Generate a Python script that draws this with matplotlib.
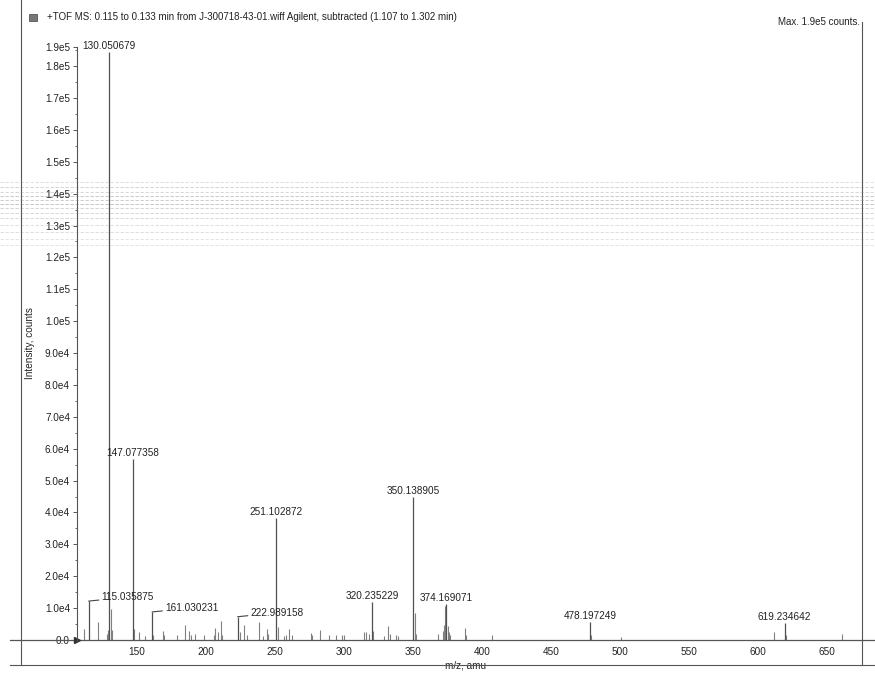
import numpy as np
import matplotlib
matplotlib.use("Agg")
import matplotlib.pyplot as plt
from matplotlib.lines import Line2D
from matplotlib.patches import Rectangle

plt.rcParams['font.family'] = ['Liberation Sans', 'DejaVu Sans']

# labelled peaks (m/z, counts)
label_mz = [115.035875, 130.050679, 147.077358, 161.030231, 222.989158,
            251.102872, 320.235229, 350.138905, 374.169071, 478.197249,
            619.234642]
label_int = [12200, 184500, 56700, 8800, 7300,
             38200, 12000, 44800, 11300, 5800,
             5400]
# labels drawn with a leader line to the right of the peak
leader_mz = [115.035875, 161.030231, 222.989158]

# smaller, unlabelled peaks
small_mz = [111.6, 121.5, 128.0, 129.0, 131.05, 132.0, 148.08, 151.2, 156.0,
            162.0, 168.6, 169.5, 178.7, 184.5, 187.9, 189.5, 192.2, 198.7,
            205.5, 206.7, 209.0, 210.8, 211.8, 224.9, 227.6, 230.0, 238.5,
            241.0, 244.1, 245.0, 252.1, 256.5, 258.0, 260.5, 262.0, 275.9,
            277.0, 282.4, 289.4, 294.3, 298.5, 300.3, 314.5, 316.0, 318.0,
            321.2, 329.0, 331.9, 333.0, 337.4, 339.0, 351.14, 352.1, 368.0,
            371.5, 372.4, 373.2, 375.2, 376.2, 377.0, 387.6, 388.5, 407.4,
            479.2, 500.4, 611.2, 620.2, 660.6]
small_int = [3400, 5600, 2000, 3000, 9700, 3000, 3400, 2400, 1200,
             1500, 2900, 1500, 1500, 4800, 2900, 1500, 2000, 1500,
             1500, 3900, 2400, 6000, 1500, 2400, 4600, 1500, 5800,
             1200, 3400, 2000, 4100, 1200, 1500, 3400, 1500, 2100,
             1500, 3100, 1700, 1500, 1500, 1500, 2400, 2400, 2000,
             2900, 1200, 4400, 2000, 1500, 1200, 8500, 2000, 2000,
             2900, 4800, 10700, 4400, 2400, 1500, 3900, 1500, 1500,
             1500, 1000, 2400, 1500, 2000]

# the top tick marks the spectrum maximum
y_top = 186000
yticks = list(np.arange(0, 180001, 10000)) + [y_top]
ytick_labels = ['0.0', '1.0e4', '2.0e4', '3.0e4', '4.0e4', '5.0e4', '6.0e4',
                '7.0e4', '8.0e4', '9.0e4', '1.0e5', '1.1e5', '1.2e5', '1.3e5',
                '1.4e5', '1.5e5', '1.6e5', '1.7e5', '1.8e5', '1.9e5']
xticks = [150, 200, 250, 300, 350, 400, 450, 500, 550, 600, 650]

W, H = 875, 677
fig = plt.figure(figsize=(W / 100, H / 100), dpi=100)
ax = fig.add_axes([77 / W, 1 - 640 / H, 785 / W, 593 / H])

ax.vlines(small_mz, 0, small_int, color='#808080', lw=0.8)
ax.vlines(label_mz, 0, label_int, color='#505050', lw=0.9)

for mz, h in zip(label_mz, label_int):
    txt = f"{mz:.6f}"
    if mz in leader_mz:
        ax.annotate(txt, (mz, h), xytext=(13, 4), textcoords='offset pixels',
                    ha='left', va='center', fontsize=7.2, color='#222222',
                    arrowprops=dict(arrowstyle='-', color='#444444', lw=0.8,
                                    shrinkA=0, shrinkB=0))
    else:
        ax.annotate(txt, (mz, h), xytext=(0, 1), textcoords='offset pixels',
                    ha='center', va='bottom', fontsize=7.2, color='#222222')

ax.set_xlim(106.6, 675.3)
ax.set_ylim(0, y_top)

# baseline runs past both ends of the axis
ax.axhline(0, xmin=-0.085, xmax=1.02, color='#555555', lw=0.9, clip_on=False)
ax.plot([106.6], [0], marker='>', ms=4, color='#333333', clip_on=False)

for s in ['top', 'right', 'bottom']:
    ax.spines[s].set_visible(False)
ax.spines['left'].set_color('#555555')
ax.spines['left'].set_linewidth(0.8)

ax.set_yticks(yticks)
ax.set_yticklabels(ytick_labels)
ax.set_yticks(np.arange(5000, y_top, 10000), minor=True)
ax.tick_params(axis='y', which='major', length=3, width=0.7, color='#555555',
               labelsize=7.2, pad=2, labelcolor='#222222')
ax.tick_params(axis='y', which='minor', length=1.5, width=0.6, color='#555555')
ax.set_xticks(xticks)
ax.tick_params(axis='x', length=0, labelsize=7.2, pad=5, labelcolor='#222222')

ax.set_ylabel('Intensity, counts', fontsize=7.2, color='#222222')
ax.yaxis.set_label_coords(-0.053, 0.5)
ax.set_xlabel('m/z, amu', fontsize=7.2, color='#222222', labelpad=1)
ax.xaxis.set_label_coords(0.495, -0.035)

# outer frame
frame_kw = dict(color='#555555', lw=0.8, transform=fig.transFigure)
fig.add_artist(Line2D([21 / W, 21 / W], [1, 1 - 665 / H], **frame_kw))
fig.add_artist(Line2D([10 / W, 1], [1 - 665 / H, 1 - 665 / H], **frame_kw))
fig.add_artist(Line2D([862 / W, 862 / W], [1 - 22 / H, 1 - 665 / H], **frame_kw))

# faint scan streaks across the upper part
for yp, a in [(182, 0.3), (187, 0.4), (192, 0.35), (196, 0.5), (200, 0.45),
              (204, 0.55), (208, 0.4), (213, 0.35), (218, 0.35), (225, 0.3),
              (232, 0.3), (239, 0.25), (245, 0.25)]:
    fig.add_artist(Line2D([0, 1], [1 - yp / H] * 2, color='#808080', lw=0.6,
                          alpha=a, ls=(0, (4, 2)), transform=fig.transFigure))

# header
fig.add_artist(Rectangle((29 / W, 1 - 21 / H), 8 / W, 7 / H, facecolor='#777777',
                         edgecolor='#444444', lw=0.5, transform=fig.transFigure))
fig.text(47 / W, 1 - 17 / H,
         '+TOF MS: 0.115 to 0.133 min from J-300718-43-01.wiff Agilent, '
         'subtracted (1.107 to 1.302 min)',
         fontsize=7, va='center', ha='left', color='#222222')
fig.text(860 / W, 1 - 22 / H, 'Max. 1.9e5 counts.', fontsize=7,
         va='center', ha='right', color='#222222')

fig.savefig('out.png', dpi=100, facecolor='white')
